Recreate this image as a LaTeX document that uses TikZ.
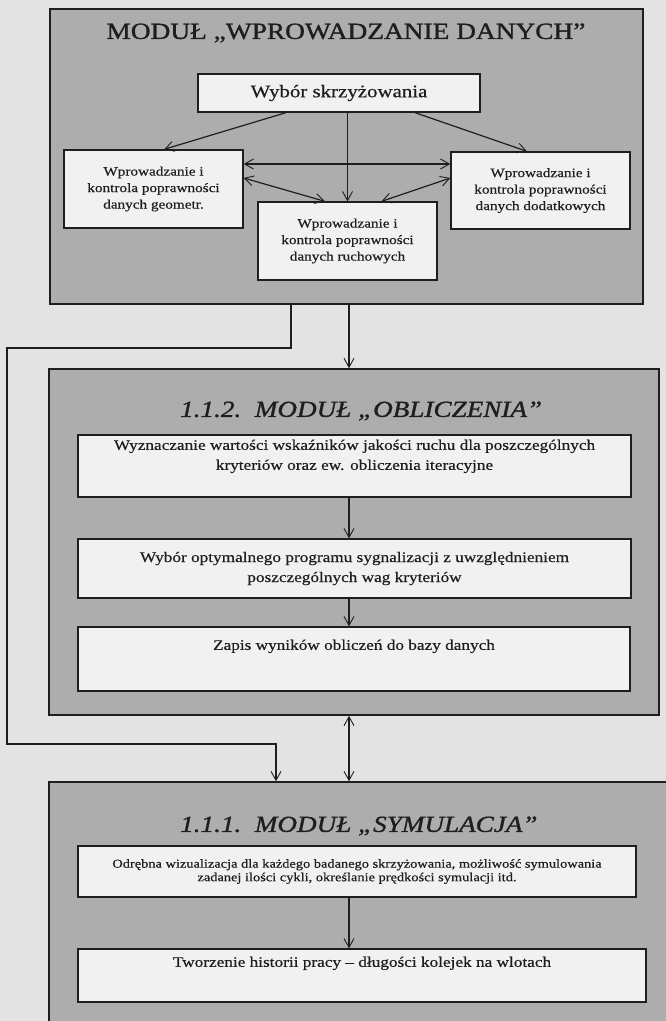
\documentclass[tikz,border=0pt]{standalone}
\usepackage{fontspec}
\setmainfont{Liberation Serif}
\newfontfamily\wfont{Liberation Serif}[FakeStretch=1.18,FakeBold=0.5]
\newfontfamily\hfont{Liberation Serif}[FakeStretch=1.18,FakeBold=1.2]
\usetikzlibrary{arrows.meta,calc}
\definecolor{bgc}{HTML}{E3E3E3}
\definecolor{modc}{HTML}{ADADAD}
\definecolor{boxc}{HTML}{F1F1F1}
\definecolor{inkc}{HTML}{1E1E1E}
\tikzset{
  module/.style={rectangle, draw=inkc, fill=modc, line width=1.6pt, inner sep=0pt},
  box/.style={rectangle, draw=inkc, fill=boxc, line width=1.3pt, inner sep=0pt, align=center, text=inkc},
  txt/.style={inner sep=0pt, align=center, text=inkc},
  conn/.style={draw=inkc, line width=1.2pt},
  arr/.style={conn, -{Straight Barb[length=9pt,width=10pt,line width=0.9pt]}},
  darr/.style={conn, {Straight Barb[length=9pt,width=10pt,line width=0.9pt]}-{Straight Barb[length=9pt,width=10pt,line width=0.9pt]}},
  fA/.style={font=\hfont\fontsize{23.2}{27}\selectfont},
  fW/.style={font=\wfont\fontsize{17.7}{20}\selectfont},
  fS/.style={font=\wfont\fontsize{12.9}{16.5}\selectfont},
  fM/.style={font=\wfont\fontsize{14.6}{20}\selectfont},
  fT/.style={font=\hfont\itshape\fontsize{23}{27}\selectfont},
  fD/.style={font=\wfont\fontsize{12.2}{13.5}\selectfont}
}
\begin{document}
\begin{tikzpicture}[x=1pt,y=-1pt]
\useasboundingbox (0,0) rectangle (666,1021);
\clip (0,0) rectangle (666,1021);
\fill[bgc] (0,0) rectangle (666,1021);

% modules
\node[module, minimum width=593pt, minimum height=295pt] (m1) at (346.5,156.5) {};
\node[module, minimum width=610pt, minimum height=346pt] (m2) at (354,542) {};
\node[module, minimum width=631pt, minimum height=258pt] (m3) at (364.5,911) {};

% module 1
\node[txt, fA] (t1) at (346,33) {MODUŁ „WPROWADZANIE DANYCH”};
\node[box, fW, minimum width=282pt, minimum height=38pt] (w) at (339,93) {Wybór skrzyżowania};
\node[box, fS, minimum width=179pt, minimum height=78pt] (g) at (153.5,189) {Wprowadzanie i\\kontrola poprawności\\danych geometr.};
\node[box, fS, minimum width=179pt, minimum height=78pt] (r) at (347.5,241) {Wprowadzanie i\\kontrola poprawności\\danych ruchowych};
\node[box, fS, minimum width=179pt, minimum height=77pt] (d) at (540.5,190.5) {Wprowadzanie i\\kontrola poprawności\\danych dodatkowych};

\draw[arr] ([xshift=-53pt]w.south) -- ([xshift=10.5pt]g.north);
\draw[arr] ([xshift=76pt]w.south) -- ([xshift=-13.5pt]d.north);
\draw[arr] (w.south -| r.north) -- (r.north);
\draw[darr] ([yshift=25pt]g.east) -- ([yshift=25pt]g.east -| d.west);
\draw[darr] ([yshift=11pt]g.east) -- ([xshift=-22.5pt]r.north);
\draw[darr] ([yshift=12.5pt]d.west) -- ([xshift=34pt]r.north);

% module 2
\node[txt, fT, anchor=west] (t2) at (180,411) {1.1.2.\ \ MODUŁ „OBLICZENIA”};
\node[box, minimum width=553pt, minimum height=62pt] (A) at (354.5,466) {};
\node[txt, fM] (At) at ([yshift=-22pt]A.north) {Wyznaczanie wartości wskaźników jakości ruchu dla poszczególnych\\kryteriów oraz ew. obliczenia iteracyjne};
\node[box, fM, minimum width=553pt, minimum height=59pt] (B) at (354.5,568.5) {Wybór optymalnego programu sygnalizacji z uwzględnieniem\\poszczególnych wag kryteriów};
\node[box, minimum width=552pt, minimum height=64pt] (C) at (354,659) {};
\node[txt, fM] (Ct) at ([yshift=-20pt]C.north) {Zapis wyników obliczeń do bazy danych};

% module 3
\node[txt, fT, anchor=west] (t3) at (180,826) {1.1.1.\ \ MODUŁ „SYMULACJA”};
\node[box, fD, minimum width=558pt, minimum height=51pt] (D) at (357,871.5) {Odrębna wizualizacja dla każdego badanego skrzyżowania, możliwość symulowania\\zadanej ilości cykli, określanie prędkości symulacji itd.};
\node[box, minimum width=568pt, minimum height=53pt] (E) at (362,975.5) {};
\node[txt, fM] (Et) at ([yshift=-15pt]E.north) {Tworzenie historii pracy – długości kolejek na wlotach};

% connectors
\coordinate (cx) at (349,0);
\coordinate (lx) at (291,0);
\coordinate (ex) at (276,0);
\coordinate (c1) at (7,348);
\coordinate (c2) at (7,744);

\draw[arr] (m1.south -| cx) -- (m2.north -| cx);
\draw[arr] (m1.south -| lx) |- (c1) -- (c2) -| (m3.north -| ex);
\draw[darr] (m2.south -| cx) -- (m3.north -| cx);
\draw[arr] (A.south -| cx) -- (B.north -| cx);
\draw[arr] (B.south -| cx) -- (C.north -| cx);
\draw[arr] (D.south -| cx) -- (E.north -| cx);
\end{tikzpicture}
\end{document}
